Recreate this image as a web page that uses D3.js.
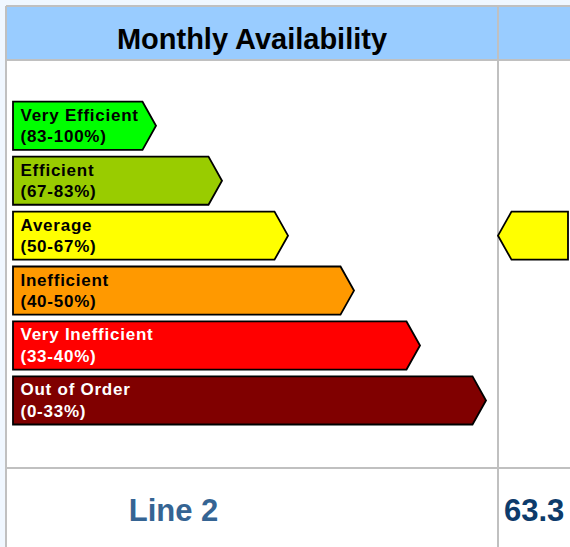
<!DOCTYPE html>
<html>
<head>
<meta charset="utf-8">
<title>Monthly Availability</title>
<script src="https://d3js.org/d3.v7.min.js"></script>
<style>
  body { margin: 0; background: #f0f7ff; }
  svg { display: block; font-family: "Liberation Sans", Arial, sans-serif; }
</style>
</head>
<body>
<svg width="570" height="547"></svg>
<script>
// rating classes, best first
var categories = ["Very Efficient", "Efficient", "Average", "Inefficient", "Very Inefficient", "Out of Order"];
var ranges = ["(83-100%)", "(67-83%)", "(50-67%)", "(40-50%)", "(33-40%)", "(0-33%)"];
var lowerBounds = [83, 67, 50, 40, 33, 0];
var barRank = [1, 2, 3, 4, 5, 6];
var colors = ["#00ff00", "#99cc00", "#ffff00", "#ff9900", "#ff0000", "#800000"];
var textColors = ["#000", "#000", "#000", "#000", "#fff", "#fff"];

var lineName = "Line 2";
var availability = 63.3;

var svg = d3.select("svg"),
    width = +svg.attr("width"),
    height = +svg.attr("height");

var tableLeft = 6, tableTop = 6, divX = 498, headBottom = 60, footTop = 468;
var grid = "#c0c0c0";

// cells
svg.append("rect").attr("x", tableLeft).attr("y", tableTop)
    .attr("width", width).attr("height", height).attr("fill", "#fff");
svg.append("rect").attr("x", tableLeft).attr("y", tableTop)
    .attr("width", width).attr("height", headBottom - tableTop).attr("fill", "#99ccff");

// grid lines
var lines = [
  [tableLeft, tableTop, width, tableTop],
  [tableLeft, tableTop, tableLeft, height],
  [tableLeft, headBottom, width, headBottom],
  [tableLeft, footTop, width, footTop],
  [divX, tableTop, divX, height]
];
svg.selectAll(".grid").data(lines).enter().append("line")
    .attr("class", "grid")
    .attr("x1", function(d) { return d[0]; })
    .attr("y1", function(d) { return d[1]; })
    .attr("x2", function(d) { return d[2]; })
    .attr("y2", function(d) { return d[3]; })
    .attr("stroke", grid)
    .attr("stroke-width", 2);

svg.append("text")
    .attr("x", (tableLeft + divX) / 2)
    .attr("y", 49)
    .attr("text-anchor", "middle")
    .attr("font-weight", "bold")
    .attr("font-size", 29)
    .attr("fill", "#000")
    .text("Monthly Availability");

// scales
var y = d3.scaleBand()
    .domain(categories)
    .range([101.7, 424.5])
    .paddingInner(0.124)
    .paddingOuter(0);

var x = d3.scaleLinear()
    .domain([0, 6])
    .range([90, 486]);

var barLeft = 13, tip = 13.5;

function arrowRight(x0, x1, y0, h) {
  return [[x0, y0], [x1 - tip, y0], [x1, y0 + h / 2], [x1 - tip, y0 + h], [x0, y0 + h]];
}

var bars = svg.selectAll(".bar")
    .data(categories)
    .enter().append("g")
    .attr("class", "bar");

bars.append("polygon")
    .attr("points", function(d, i) {
      return arrowRight(barLeft, x(barRank[i]), y(d), y.bandwidth()).join(" ");
    })
    .attr("fill", function(d, i) { return colors[i]; })
    .attr("stroke", "#000")
    .attr("stroke-width", 1.8)
    .attr("stroke-linejoin", "miter");

bars.append("text")
    .attr("x", barLeft + 7.5)
    .attr("y", function(d) { return y(d) + 19; })
    .attr("font-weight", "bold")
    .attr("font-size", 17)
    .attr("letter-spacing", 0.75)
    .attr("fill", function(d, i) { return textColors[i]; })
    .text(function(d) { return d; });

bars.append("text")
    .attr("x", barLeft + 7.5)
    .attr("y", function(d) { return y(d) + 40.5; })
    .attr("font-weight", "bold")
    .attr("font-size", 17)
    .attr("letter-spacing", 0.75)
    .attr("fill", function(d, i) { return textColors[i]; })
    .text(function(d, i) { return ranges[i]; });

// indicator for current value
var k = lowerBounds.findIndex(function(b) { return availability >= b; });
var cat = categories[k];
var iy = y(cat), ih = y.bandwidth(), ix = divX, ix1 = 568;
svg.append("polygon")
    .attr("points", [[ix, iy + ih / 2], [ix + tip, iy], [ix1, iy], [ix1, iy + ih], [ix + tip, iy + ih]].join(" "))
    .attr("fill", colors[k])
    .attr("stroke", "#000")
    .attr("stroke-width", 1.8);

// footer
svg.append("text")
    .attr("x", 173.5)
    .attr("y", 521)
    .attr("text-anchor", "middle")
    .attr("font-weight", "bold")
    .attr("font-size", 31)
    .attr("fill", "#356493")
    .text(lineName);

svg.append("text")
    .attr("x", 504)
    .attr("y", 521)
    .attr("font-weight", "bold")
    .attr("font-size", 31)
    .attr("fill", "#0d3b6b")
    .text(availability.toFixed(1));
</script>
</body>
</html>
